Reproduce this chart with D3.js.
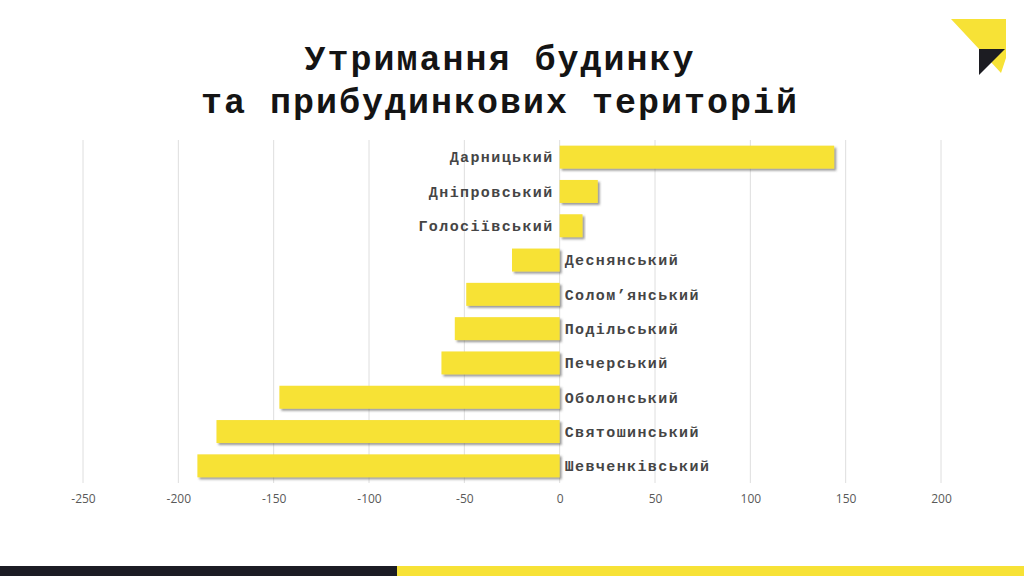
<!DOCTYPE html>
<html>
<head>
<meta charset="utf-8">
<script src="https://cdn.jsdelivr.net/npm/d3@7"></script>
<style>
  html, body { margin: 0; padding: 0; background: #ffffff; }
  svg { display: block; }
</style>
</head>
<body>
<svg id="chart" width="1024" height="576"></svg>
<script>
const titleLines = ["Утримання будинку", "та прибудинкових територій"];
const districts = ["Дарницький", "Дніпровський", "Голосіївський", "Деснянський", "Солом’янський", "Подільський", "Печерський", "Оболонський", "Святошинський", "Шевченківський"];
const values = [144, 20, 12, -25, -49, -55, -62, -147, -180, -190];
const tickValues = [-250, -200, -150, -100, -50, 0, 50, 100, 150, 200];

const svg = d3.select("#chart");

const defs = svg.append("defs");
const f = defs.append("filter").attr("id", "shadow").attr("x", "-5%").attr("y", "-20%").attr("width", "120%").attr("height", "160%");
f.append("feDropShadow").attr("dx", 2).attr("dy", 2).attr("stdDeviation", 1).attr("flood-color", "#555").attr("flood-opacity", 0.6);

// title
svg.append("g").selectAll("text").data(titleLines).join("text")
  .attr("x", 500).attr("y", (d, i) => 70 + i * 43)
  .attr("text-anchor", "middle")
  .attr("font-family", "'Liberation Mono', 'Courier New', monospace")
  .attr("font-weight", "bold").attr("font-size", 35).attr("letter-spacing", 2)
  .attr("fill", "#141414")
  .text(d => d);

// logo
svg.append("polygon").attr("points", "951,19 1006,19 1006,58 1001,73 979,49").attr("fill", "#f7e236");
svg.append("polygon").attr("points", "979,49 1005,49 979,75").attr("fill", "#1c1c22");

// bottom bars
svg.append("rect").attr("x", 0).attr("y", 566).attr("width", 397).attr("height", 10).attr("fill", "#1c1c24");
svg.append("rect").attr("x", 397).attr("y", 566).attr("width", 627).attr("height", 10).attr("fill", "#f7e236");

const x = d3.scaleLinear().domain([-250, 200]).range([83, 941]);
const y = d3.scaleBand().domain(districts).range([140, 483]).paddingInner(0.33).paddingOuter(0.165);

// grid
svg.append("g").selectAll("line").data(tickValues).join("line")
  .attr("x1", d => x(d)).attr("x2", d => x(d))
  .attr("y1", 140).attr("y2", 483)
  .attr("stroke", "#dedede").attr("stroke-width", 1);

// axis
const axis = d3.axisBottom(x).tickValues(tickValues).tickFormat(d => String(d)).tickSize(0).tickPadding(10);
const ag = svg.append("g").attr("transform", "translate(0,484)").call(axis);
ag.select(".domain").remove();
ag.selectAll("text").attr("font-family", "'Open Sans', sans-serif").attr("font-size", 12).attr("fill", "#595959");

// bars
svg.append("g").selectAll("rect").data(values).join("rect")
  .attr("x", d => x(Math.min(0, d)))
  .attr("y", (d, i) => y(districts[i]))
  .attr("width", d => Math.abs(x(d) - x(0)))
  .attr("height", y.bandwidth())
  .attr("fill", "#f7e236")
  .attr("filter", "url(#shadow)");

// labels
svg.append("g").selectAll("text").data(values).join("text")
  .attr("x", d => d >= 0 ? x(0) - 6 : x(0) + 5)
  .attr("y", (d, i) => y(districts[i]) + y.bandwidth() / 2)
  .attr("dy", "0.35em")
  .attr("text-anchor", d => d >= 0 ? "end" : "start")
  .attr("font-family", "'Liberation Mono', 'Courier New', monospace")
  .attr("font-weight", "bold").attr("font-size", 15).attr("letter-spacing", 1.4)
  .attr("fill", "#454545")
  .text((d, i) => districts[i]);
</script>
</body>
</html>
